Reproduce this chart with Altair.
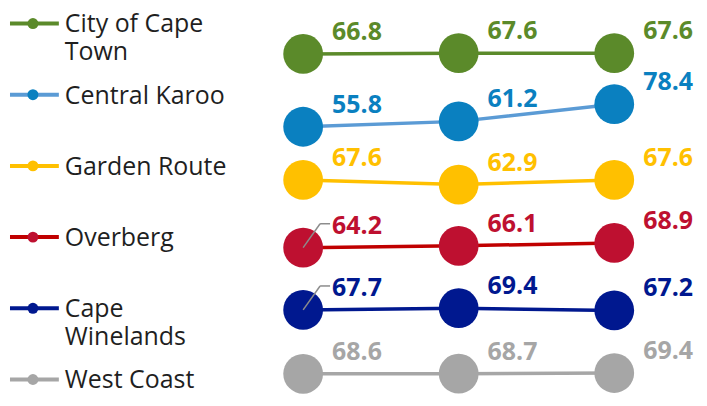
import altair as alt
import pandas as pd

# ---- data -------------------------------------------------------------
series = ["City of Cape Town", "Central Karoo", "Garden Route",
          "Overberg", "Cape Winelands", "West Coast"]
legend_text = ["City of Cape\nTown", "Central Karoo", "Garden Route",
               "Overberg", "Cape\nWinelands", "West Coast"]
periods = ["Period 1", "Period 2", "Period 3"]

cape_town = [66.8, 67.6, 67.6]
central_karoo = [55.8, 61.2, 78.4]
garden_route = [67.6, 62.9, 67.6]
overberg = [64.2, 66.1, 68.9]
cape_winelands = [67.7, 69.4, 67.2]
west_coast = [68.6, 68.7, 69.4]
values = [cape_town, central_karoo, garden_route, overberg, cape_winelands, west_coast]

# ---- style ------------------------------------------------------------
point_colors = ["#5B8A2A", "#0A80C0", "#FFC000", "#BE1030", "#00188F", "#A6A6A6"]
line_colors = ["#5B8A2A", "#5B9BD5", "#FFC000", "#C00000", "#00188F", "#A6A6A6"]
FONT = "Open Sans"
ROW_TOP, ROW_STEP, SLOPE = 45, 64.2, 1.0   # each series drawn in its own row

rows = []
for i, (s, vals) in enumerate(zip(series, values)):
    mean = sum(vals) / len(vals)
    for p, v in zip(periods, vals):
        rows.append({"series": s, "period": p, "value": v,
                     "level": ROW_TOP + i * ROW_STEP - (v - mean) * SLOPE})
df = pd.DataFrame(rows)

x = alt.X("period:N", axis=None,
          scale=alt.Scale(type="point", domain=periods, range=[34, 346], padding=0))
y = alt.Y("level:Q", axis=None, scale=alt.Scale(domain=[390, 0], nice=False, zero=False))
pcolor = alt.Color("series:N", legend=None, scale=alt.Scale(domain=series, range=point_colors))
lcolor = alt.Color("series:N", legend=None, scale=alt.Scale(domain=series, range=line_colors))

base = alt.Chart(df)
lines = base.mark_line(strokeWidth=3.5).encode(x=x, y=y, color=lcolor)
dots = base.mark_circle(size=1590, opacity=1).encode(x=x, y=y, color=pcolor)
leader_src = base.transform_filter(
    alt.FieldOneOfPredicate(field="series", oneOf=["Overberg", "Cape Winelands"])
).transform_filter(alt.datum.period == periods[0])
leader1 = leader_src.mark_rule(color="#8C8C8C", strokeWidth=1.5, x2Offset=17, y2Offset=-24).encode(
    x=x, y=y, x2=alt.X2("period:N"), y2=alt.Y2("level:Q"))
leader2 = leader_src.mark_rule(color="#8C8C8C", strokeWidth=1.5, xOffset=17, x2Offset=27,
                               yOffset=-24, y2Offset=-24).encode(
    x=x, y=y, x2=alt.X2("period:N"), y2=alt.Y2("level:Q"))
labels = base.mark_text(align="left", baseline="middle", dx=29, dy=-22, font=FONT,
                        fontSize=25, fontWeight="bold").encode(
    x=x, y=y, text=alt.Text("value:Q", format=".1f"), color=pcolor)

plot = alt.layer(lines, dots, leader1, leader2, labels).resolve_scale(
    color="independent").properties(width=431, height=390)

# ---- legend panel ------------------------------------------------------
leg_df = pd.DataFrame({"series": series, "label": legend_text, "idx": list(range(len(series)))})
ly = alt.Y("idx:Q", axis=None, scale=alt.Scale(domain=[0, 5], range=[15, 372], nice=False, zero=False))
lbase = alt.Chart(leg_df)
leg_line = lbase.mark_rule(strokeWidth=4).encode(
    x=alt.value(0), x2=alt.value(49), y=ly,
    color=alt.Color("series:N", legend=None, scale=alt.Scale(domain=series, range=line_colors)))
leg_dot = lbase.mark_circle(size=120, opacity=1).encode(
    x=alt.value(23), y=ly,
    color=alt.Color("series:N", legend=None, scale=alt.Scale(domain=series, range=point_colors)))
leg_text = lbase.mark_text(align="left", baseline="top", dy=-11, font=FONT, fontSize=25,
                           lineHeight=28, lineBreak="\n", color="#1F1F1F").encode(
    x=alt.value(55), y=ly, text="label:N")
legend = alt.layer(leg_line, leg_dot, leg_text).resolve_scale(
    color="independent").properties(width=260, height=390)

chart = alt.hconcat(legend, plot, spacing=0).properties(padding=0).configure_view(stroke=None)
chart.save("out.html", embed_options={"renderer": "svg", "actions": False})
